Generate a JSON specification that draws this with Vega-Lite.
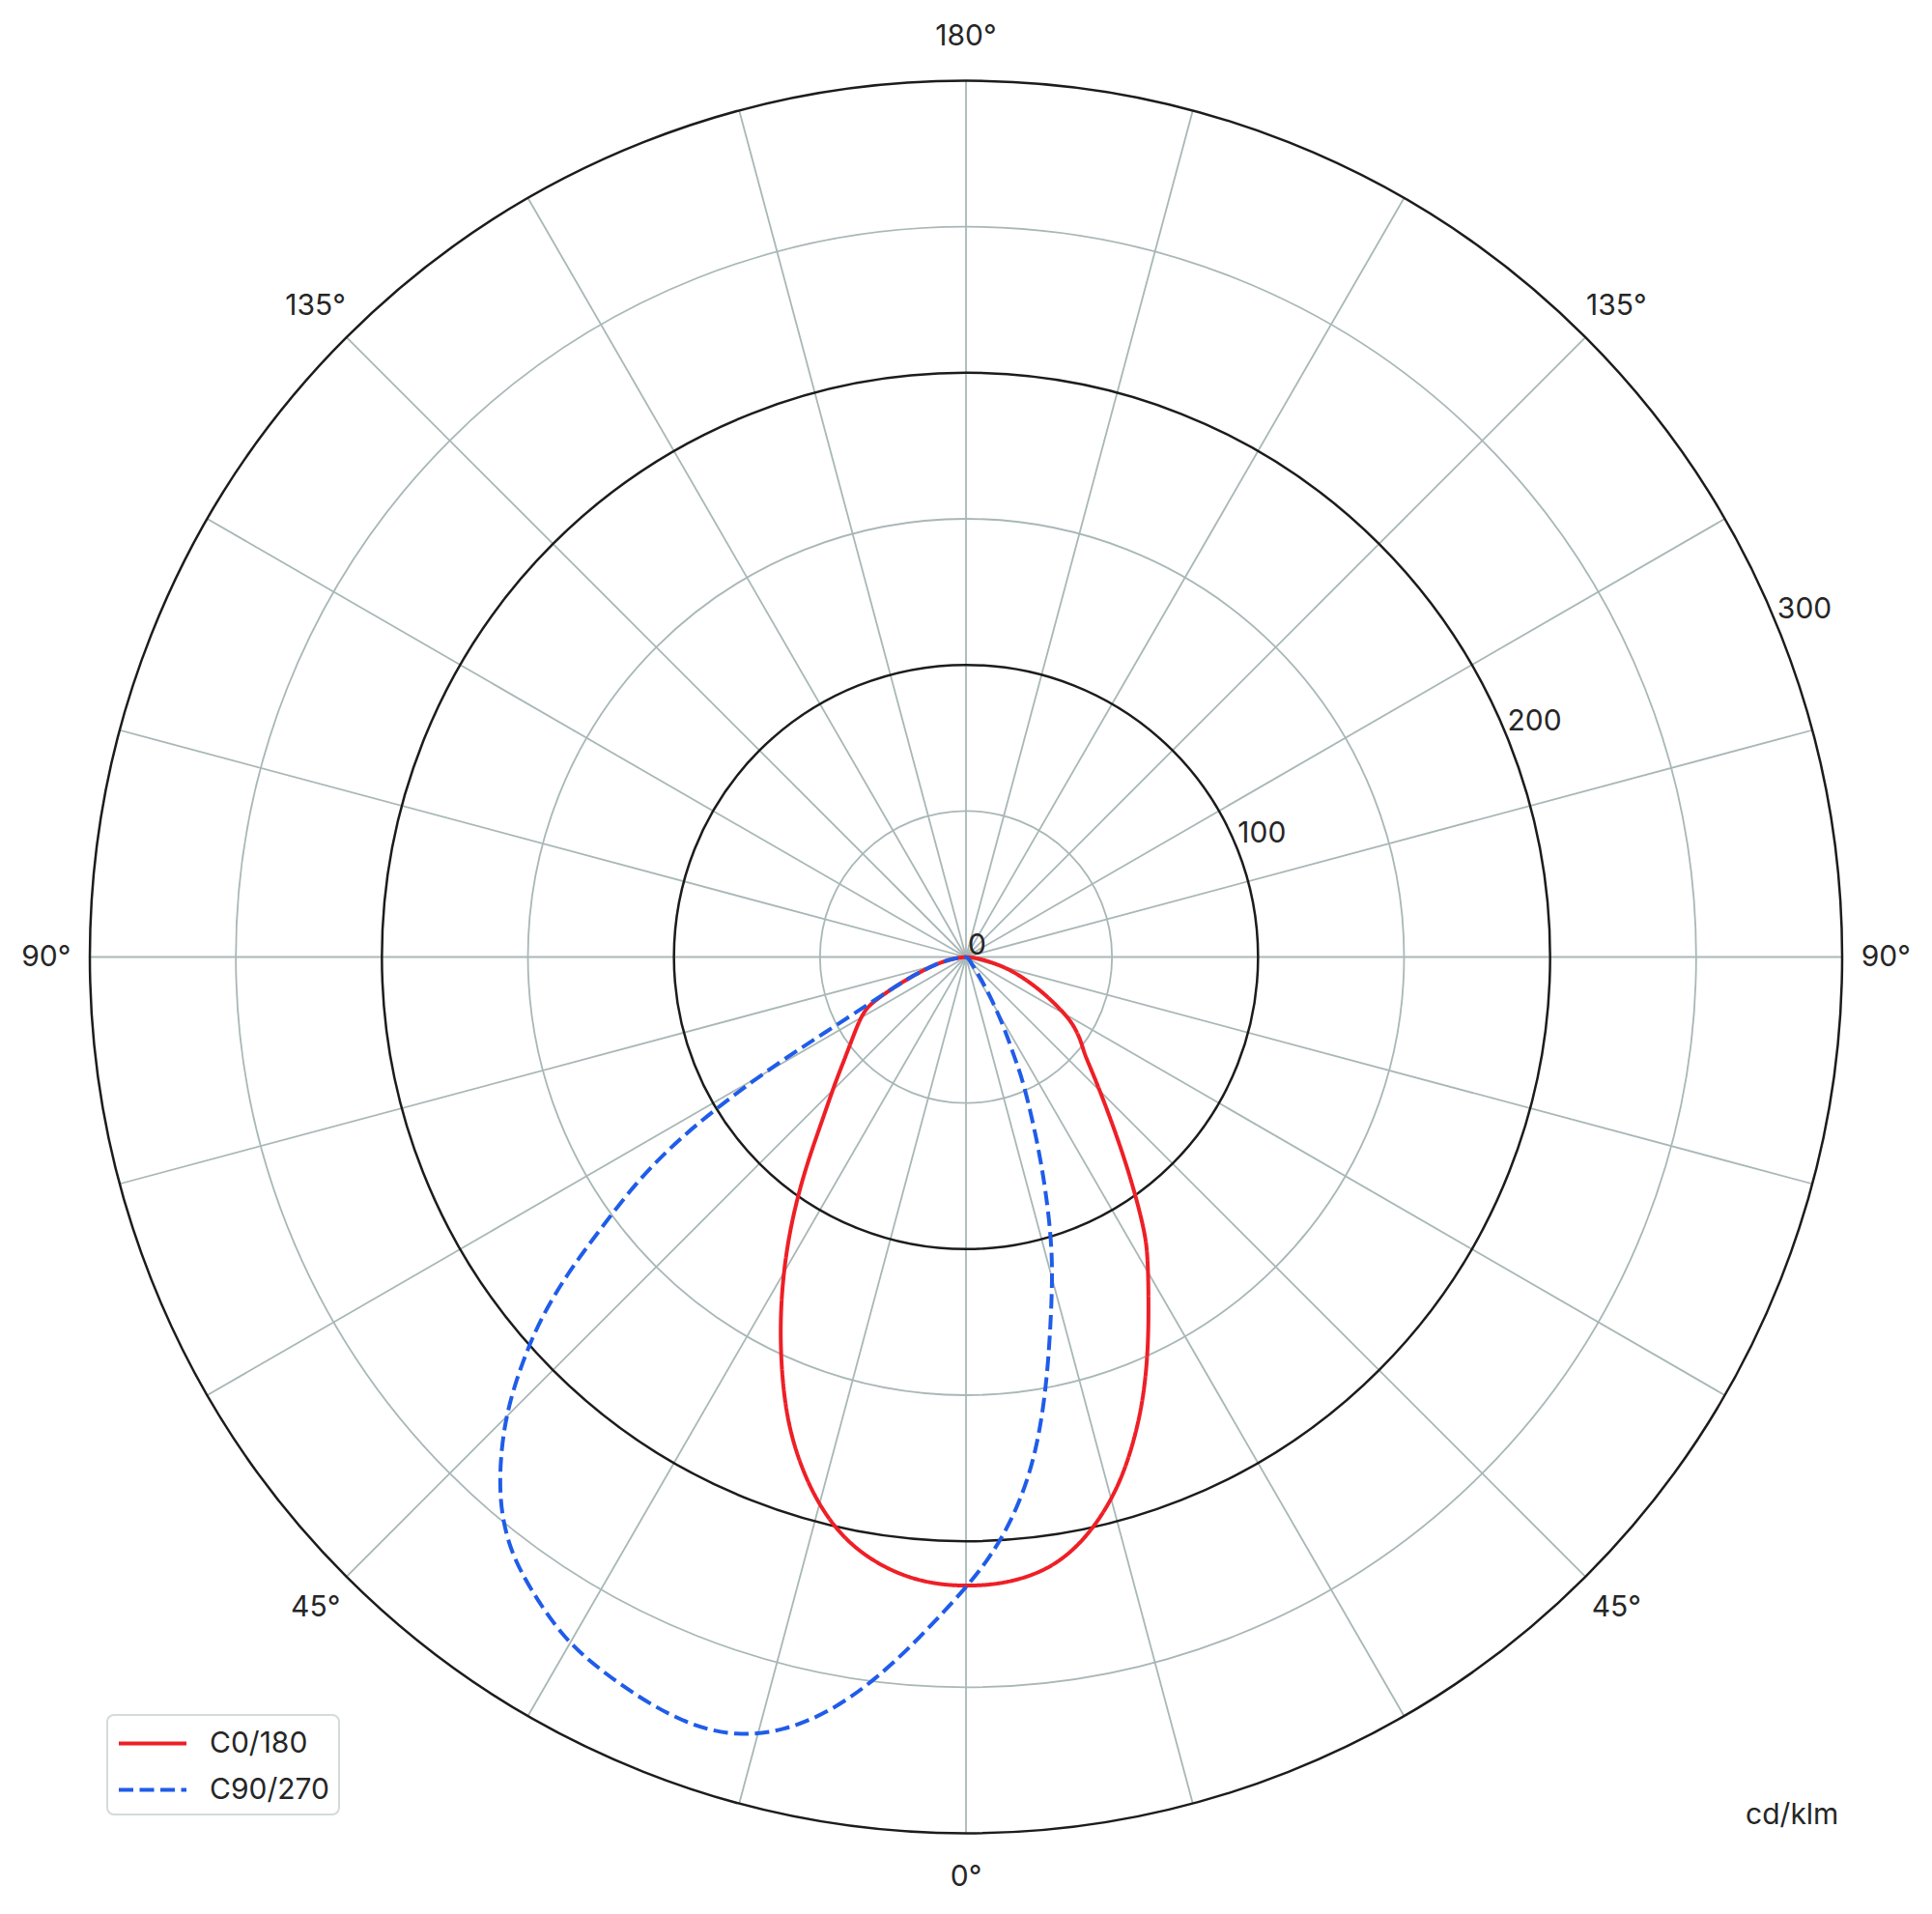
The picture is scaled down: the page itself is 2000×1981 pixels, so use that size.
{
  "$schema": "https://vega.github.io/schema/vega-lite/v6.json",
  "width": 2000,
  "height": 1981,
  "autosize": "none",
  "padding": 0,
  "background": "white",
  "datasets": {
    "curves": [
      {"plane": "C0/180", "g": 90, "v": 0},
      {"plane": "C0/180", "g": 85, "v": 3},
      {"plane": "C0/180", "g": 80.5, "v": 6.7},
      {"plane": "C0/180", "g": 75.1, "v": 15.5},
      {"plane": "C0/180", "g": 66.8, "v": 26.7},
      {"plane": "C0/180", "g": 62, "v": 35.1},
      {"plane": "C0/180", "g": 58.4, "v": 42.9},
      {"plane": "C0/180", "g": 53.7, "v": 49},
      {"plane": "C0/180", "g": 50.8, "v": 52.2},
      {"plane": "C0/180", "g": 47.1, "v": 59.9},
      {"plane": "C0/180", "g": 41.3, "v": 76.1},
      {"plane": "C0/180", "g": 36.8, "v": 94.1},
      {"plane": "C0/180", "g": 33.2, "v": 111.7},
      {"plane": "C0/180", "g": 31.3, "v": 119.9},
      {"plane": "C0/180", "g": 27.7, "v": 134.6},
      {"plane": "C0/180", "g": 24.7, "v": 149.2},
      {"plane": "C0/180", "g": 21.7, "v": 163.9},
      {"plane": "C0/180", "g": 19, "v": 176.1},
      {"plane": "C0/180", "g": 16.4, "v": 187.3},
      {"plane": "C0/180", "g": 13.6, "v": 197.3},
      {"plane": "C0/180", "g": 10.5, "v": 206.2},
      {"plane": "C0/180", "g": 7.2, "v": 212.3},
      {"plane": "C0/180", "g": 3.3, "v": 215.1},
      {"plane": "C0/180", "g": 0, "v": 215.4},
      {"plane": "C0/180", "g": -2.9, "v": 215},
      {"plane": "C0/180", "g": -6.3, "v": 212.7},
      {"plane": "C0/180", "g": -10, "v": 207.4},
      {"plane": "C0/180", "g": -13.1, "v": 200.3},
      {"plane": "C0/180", "g": -16.3, "v": 190},
      {"plane": "C0/180", "g": -19.7, "v": 176.5},
      {"plane": "C0/180", "g": -22.7, "v": 162.3},
      {"plane": "C0/180", "g": -26.5, "v": 143.1},
      {"plane": "C0/180", "g": -30.1, "v": 124.9},
      {"plane": "C0/180", "g": -33.6, "v": 107.8},
      {"plane": "C0/180", "g": -37.4, "v": 90.3},
      {"plane": "C0/180", "g": -41.5, "v": 74},
      {"plane": "C0/180", "g": -45.9, "v": 62.7},
      {"plane": "C0/180", "g": -49.5, "v": 55.1},
      {"plane": "C0/180", "g": -55, "v": 47.1},
      {"plane": "C0/180", "g": -62, "v": 40},
      {"plane": "C0/180", "g": -64.7, "v": 34.6},
      {"plane": "C0/180", "g": -70.3, "v": 20.7},
      {"plane": "C0/180", "g": -79.4, "v": 8.95},
      {"plane": "C0/180", "g": -85, "v": 3},
      {"plane": "C0/180", "g": -90, "v": 0},
      {"plane": "C90/270", "g": 90, "v": 0},
      {"plane": "C90/270", "g": 60, "v": 1},
      {"plane": "C90/270", "g": 45, "v": 2},
      {"plane": "C90/270", "g": 40, "v": 3},
      {"plane": "C90/270", "g": 36.9, "v": 5.5},
      {"plane": "C90/270", "g": 32.5, "v": 14.4},
      {"plane": "C90/270", "g": 28.5, "v": 27.6},
      {"plane": "C90/270", "g": 25.8, "v": 38},
      {"plane": "C90/270", "g": 24.7, "v": 47.4},
      {"plane": "C90/270", "g": 20.8, "v": 70.8},
      {"plane": "C90/270", "g": 18.1, "v": 90.7},
      {"plane": "C90/270", "g": 16.1, "v": 106.7},
      {"plane": "C90/270", "g": 14.1, "v": 120.7},
      {"plane": "C90/270", "g": 11.5, "v": 141.7},
      {"plane": "C90/270", "g": 9.3, "v": 160.9},
      {"plane": "C90/270", "g": 7.1, "v": 178.3},
      {"plane": "C90/270", "g": 4.6, "v": 193.9},
      {"plane": "C90/270", "g": 2.2, "v": 206.1},
      {"plane": "C90/270", "g": 0, "v": 216},
      {"plane": "C90/270", "g": -3.9, "v": 233.7},
      {"plane": "C90/270", "g": -7.2, "v": 249.7},
      {"plane": "C90/270", "g": -10.3, "v": 262.9},
      {"plane": "C90/270", "g": -13.3, "v": 272.3},
      {"plane": "C90/270", "g": -16.4, "v": 278.1},
      {"plane": "C90/270", "g": -19.7, "v": 279.5},
      {"plane": "C90/270", "g": -23.3, "v": 277.6},
      {"plane": "C90/270", "g": -27.2, "v": 274.4},
      {"plane": "C90/270", "g": -30.6, "v": 270.9},
      {"plane": "C90/270", "g": -34.5, "v": 263.1},
      {"plane": "C90/270", "g": -37.7, "v": 256},
      {"plane": "C90/270", "g": -40.7, "v": 245.3},
      {"plane": "C90/270", "g": -43.5, "v": 231.3},
      {"plane": "C90/270", "g": -45.6, "v": 219.3},
      {"plane": "C90/270", "g": -47.6, "v": 205.8},
      {"plane": "C90/270", "g": -49.6, "v": 191.6},
      {"plane": "C90/270", "g": -51.6, "v": 174},
      {"plane": "C90/270", "g": -53.3, "v": 156.4},
      {"plane": "C90/270", "g": -55.7, "v": 136.7},
      {"plane": "C90/270", "g": -57.6, "v": 116.9},
      {"plane": "C90/270", "g": -59, "v": 96.9},
      {"plane": "C90/270", "g": -60.5, "v": 75.6},
      {"plane": "C90/270", "g": -61.8, "v": 55.2},
      {"plane": "C90/270", "g": -64.7, "v": 34.6},
      {"plane": "C90/270", "g": -70.3, "v": 20.7},
      {"plane": "C90/270", "g": -79.4, "v": 8.95},
      {"plane": "C90/270", "g": -85, "v": 3},
      {"plane": "C90/270", "g": -90, "v": 0}
    ],
    "spokes": [
      {"g": 0, "v": 300}, {"g": 15, "v": 300}, {"g": 30, "v": 300}, {"g": 45, "v": 300},
      {"g": 60, "v": 300}, {"g": 75, "v": 300}, {"g": 90, "v": 300}, {"g": 105, "v": 300},
      {"g": 120, "v": 300}, {"g": 135, "v": 300}, {"g": 150, "v": 300}, {"g": 165, "v": 300},
      {"g": 180, "v": 300}, {"g": 195, "v": 300}, {"g": 210, "v": 300}, {"g": 225, "v": 300},
      {"g": 240, "v": 300}, {"g": 255, "v": 300}, {"g": 270, "v": 300}, {"g": 285, "v": 300},
      {"g": 300, "v": 300}, {"g": 315, "v": 300}, {"g": 330, "v": 300}, {"g": 345, "v": 300}
    ],
    "minorRings": [{"r": 50}, {"r": 150}, {"r": 250}],
    "majorRings": [{"r": 100}, {"r": 200}, {"r": 300}],
    "angleLabels": [
      {"t": "0°", "g": 0, "v": 315},
      {"t": "45°", "g": 45, "v": 315},
      {"t": "45°", "g": -45, "v": 315},
      {"t": "90°", "g": 90, "v": 315},
      {"t": "90°", "g": -90, "v": 315},
      {"t": "135°", "g": 135, "v": 315},
      {"t": "135°", "g": -135, "v": 315},
      {"t": "180°", "g": 180, "v": 315},
      {"t": "cd/klm", "g": 43.9, "v": 408}
    ],
    "radialLabels": [
      {"t": "0", "g": 112.5, "v": 0},
      {"t": "100", "g": 112.5, "v": 100},
      {"t": "200", "g": 112.5, "v": 200},
      {"t": "300", "g": 112.5, "v": 300}
    ]
  },
  "layer": [
    {
      "data": {"name": "minorRings"},
      "mark": {"type": "arc", "theta": 0, "theta2": 6.2832, "filled": false, "stroke": "#a9b7b7", "strokeWidth": 1.8},
      "encoding": {
        "radius": {
          "field": "r",
          "type": "quantitative",
          "stack": null,
          "scale": {"type": "linear", "domain": [0, 300], "range": [0, 907], "zero": true}
        }
      }
    },
    {
      "data": {"name": "spokes"},
      "transform": [
        {"calculate": "datum.v * sin(datum.g * PI / 180)", "as": "x"},
        {"calculate": "-datum.v * cos(datum.g * PI / 180)", "as": "y"}
      ],
      "mark": {"type": "rule", "stroke": "#a9b7b7", "strokeWidth": 1.8},
      "encoding": {
        "x": {"field": "x", "type": "quantitative", "scale": {"domain": [-330.8, 330.8], "nice": false, "zero": false}, "axis": null},
        "y": {"field": "y", "type": "quantitative", "scale": {"domain": [-327.62, 327.62], "nice": false, "zero": false}, "axis": null},
        "x2": {"datum": 0},
        "y2": {"datum": 0}
      }
    },
    {
      "data": {"name": "majorRings"},
      "mark": {"type": "arc", "theta": 0, "theta2": 6.2832, "filled": false, "stroke": "#1c1c1c", "strokeWidth": 2.5},
      "encoding": {
        "radius": {
          "field": "r",
          "type": "quantitative",
          "stack": null,
          "scale": {"type": "linear", "domain": [0, 300], "range": [0, 907], "zero": true}
        }
      }
    },
    {
      "data": {"name": "curves"},
      "transform": [
        {"calculate": "datum.v * sin(datum.g * PI / 180)", "as": "x"},
        {"calculate": "-datum.v * cos(datum.g * PI / 180)", "as": "y"}
      ],
      "mark": {"type": "line", "strokeWidth": 4, "interpolate": "basis"},
      "encoding": {
        "x": {"field": "x", "type": "quantitative", "scale": {"domain": [-330.8, 330.8], "nice": false, "zero": false}, "axis": null},
        "y": {"field": "y", "type": "quantitative", "scale": {"domain": [-327.62, 327.62], "nice": false, "zero": false}, "axis": null},
        "order": {"field": "g", "sort": "descending"},
        "color": {
          "field": "plane",
          "type": "nominal",
          "scale": {"domain": ["C0/180", "C90/270"], "range": ["#ee1f26", "#1f5ce9"]},
          "legend": {"title": null, "symbolType": "M-1,0H3", "symbolSize": 1225, "symbolStrokeWidth": 4}
        },
        "strokeDash": {
          "field": "plane",
          "type": "nominal",
          "scale": {"domain": ["C0/180", "C90/270"], "range": [[1, 0], [15, 6.5]]},
          "legend": {"title": null, "symbolType": "M-1,0H3", "symbolSize": 1225, "symbolStrokeWidth": 4}
        }
      }
    },
    {
      "data": {"name": "angleLabels"},
      "transform": [
        {"calculate": "datum.v * sin(datum.g * PI / 180)", "as": "x"},
        {"calculate": "-datum.v * cos(datum.g * PI / 180)", "as": "y"}
      ],
      "mark": {"type": "text", "align": "center", "baseline": "middle", "fontSize": 30, "font": "Inter", "color": "#262626"},
      "encoding": {
        "x": {"field": "x", "type": "quantitative", "scale": {"domain": [-330.8, 330.8], "nice": false, "zero": false}, "axis": null},
        "y": {"field": "y", "type": "quantitative", "scale": {"domain": [-327.62, 327.62], "nice": false, "zero": false}, "axis": null},
        "text": {"field": "t"}
      }
    },
    {
      "data": {"name": "radialLabels"},
      "transform": [
        {"calculate": "datum.v * sin(datum.g * PI / 180)", "as": "x"},
        {"calculate": "-datum.v * cos(datum.g * PI / 180)", "as": "y"}
      ],
      "mark": {"type": "text", "align": "left", "baseline": "alphabetic", "dx": 2, "dy": -3, "fontSize": 30, "font": "Inter", "color": "#262626"},
      "encoding": {
        "x": {"field": "x", "type": "quantitative", "scale": {"domain": [-330.8, 330.8], "nice": false, "zero": false}, "axis": null},
        "y": {"field": "y", "type": "quantitative", "scale": {"domain": [-327.62, 327.62], "nice": false, "zero": false}, "axis": null},
        "text": {"field": "t"}
      }
    }
  ],
  "config": {
    "view": {"stroke": null},
    "font": "Inter",
    "legend": {
      "orient": "none",
      "legendX": 111,
      "legendY": 1775,
      "padding": 10,
      "fillColor": "white",
      "strokeColor": "#d3dbdb",
      "strokeWidth": 2,
      "cornerRadius": 7,
      "labelFont": "Inter",
      "labelFontSize": 30,
      "labelColor": "#262626",
      "labelOffset": 57,
      "rowPadding": 13
    }
  }
}
